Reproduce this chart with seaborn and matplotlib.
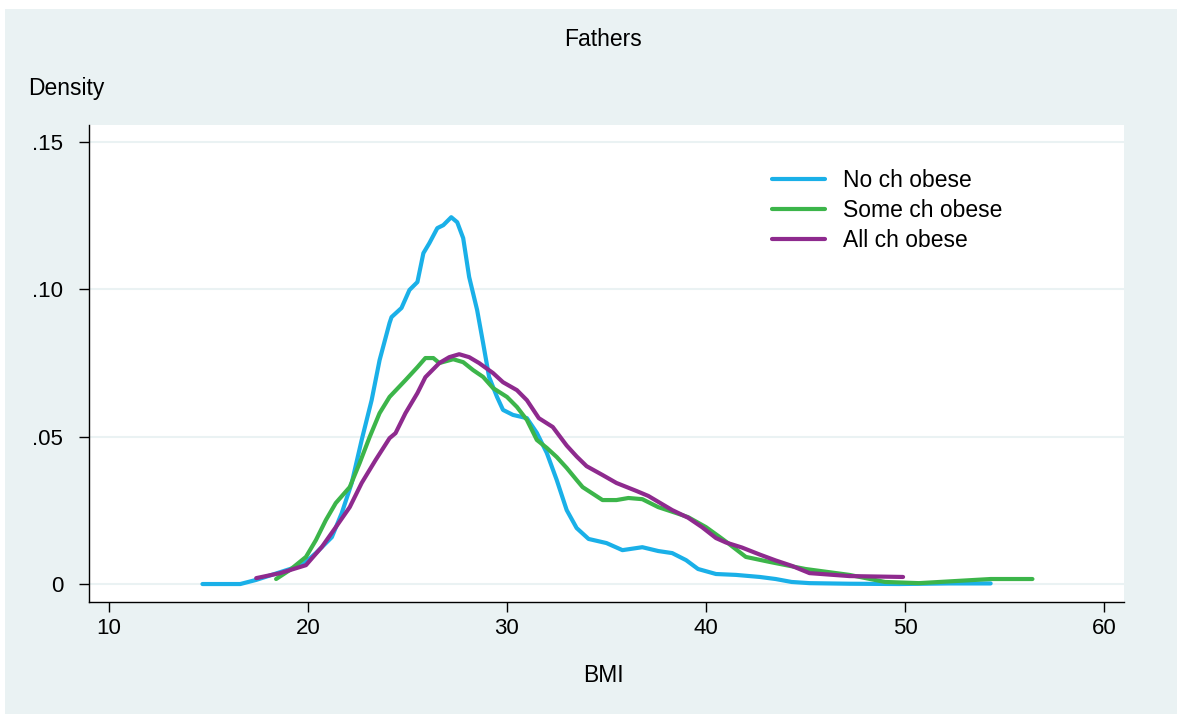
import numpy as np
import pandas as pd
import seaborn as sns
import matplotlib.pyplot as plt
from matplotlib.patches import Rectangle

# Curvas de densidad (BMI, densidad)
bmi_no = [14.7, 16.6, 17.4, 19.1, 19.7, 20.4, 21.2, 21.7, 22.2, 22.7, 23.2, 23.6, 24.1, 24.2,
          24.7, 25.1, 25.5, 25.8, 26.1, 26.5, 26.8, 27.2, 27.5, 27.8, 28.1, 28.5, 28.8, 29.1,
          29.5, 29.8, 30.3, 31.0, 31.5, 32.0, 32.5, 33.0, 33.5, 34.1, 35.0, 35.8, 36.8, 37.6,
          38.3, 39.0, 39.6, 40.5, 41.5, 42.7, 43.5, 44.3, 45.2, 47.2, 49.7, 52.2, 54.3]
dens_no = [0.0, 0.0, 0.0014, 0.0051, 0.0064, 0.0105, 0.0159, 0.0241, 0.0343, 0.0489, 0.0624, 0.0760,
           0.0886, 0.0906, 0.0937, 0.0998, 0.1025, 0.1123, 0.1157, 0.1208, 0.1218, 0.1245, 0.1228,
           0.1174, 0.1042, 0.0930, 0.0818, 0.0703, 0.0635, 0.0591, 0.0574, 0.0563, 0.0513, 0.0445,
           0.0353, 0.0251, 0.0190, 0.0153, 0.0139, 0.0115, 0.0125, 0.0112, 0.0105, 0.0081, 0.0051,
           0.0034, 0.0031, 0.0024, 0.0017, 0.0007, 0.0003, 0.0001, 0.0, 0.0002, 0.0002]

bmi_some = [18.4, 19.1, 19.9, 20.4, 20.9, 21.4, 22.1, 22.6, 23.1, 23.6, 24.1, 24.9, 25.5, 25.9,
            26.3, 26.6, 27.3, 27.8, 28.3, 28.8, 29.3, 30.0, 30.5, 31.0, 31.5, 32.0, 32.5, 33.0,
            33.5, 33.8, 34.8, 35.5, 36.1, 36.8, 37.6, 38.5, 39.1, 40.0, 40.7, 41.1, 42.0, 43.2,
            45.0, 47.2, 49.0, 50.7, 52.5, 54.3, 56.4]
dens_some = [0.0017, 0.0048, 0.0092, 0.0149, 0.0217, 0.0275, 0.0329, 0.0411, 0.0499, 0.0580, 0.0635,
             0.0692, 0.0736, 0.0767, 0.0767, 0.0750, 0.0763, 0.0753, 0.0726, 0.0703, 0.0665, 0.0635,
             0.0601, 0.0557, 0.0489, 0.0462, 0.0431, 0.0394, 0.0353, 0.0329, 0.0285, 0.0285, 0.0292,
             0.0288, 0.0261, 0.0241, 0.0227, 0.0193, 0.0159, 0.0139, 0.0092, 0.0075, 0.0051, 0.0031,
             0.0007, 0.0003, 0.0010, 0.0017, 0.0017]

bmi_all = [17.4, 18.6, 19.9, 20.7, 21.4, 22.1, 22.7, 23.4, 24.1, 24.4, 24.9, 25.5, 25.9, 26.6,
           27.1, 27.6, 28.1, 28.6, 29.3, 29.8, 30.5, 31.0, 31.6, 32.3, 33.0, 33.5, 34.0, 34.8,
           35.5, 36.5, 37.1, 38.3, 39.1, 39.8, 40.5, 41.0, 41.8, 42.7, 43.5, 44.3, 45.2, 47.2, 49.9]
dens_all = [0.0020, 0.0037, 0.0064, 0.0126, 0.0193, 0.0261, 0.0343, 0.0421, 0.0495, 0.0512, 0.0580,
            0.0648, 0.0702, 0.0750, 0.0770, 0.0780, 0.0770, 0.0750, 0.0716, 0.0685, 0.0658, 0.0624,
            0.0563, 0.0533, 0.0470, 0.0433, 0.0400, 0.0370, 0.0343, 0.0316, 0.0299, 0.0251, 0.0225,
            0.0193, 0.0156, 0.0141, 0.0124, 0.0100, 0.0080, 0.0062, 0.0037, 0.0027, 0.0024]

grupos = ["No ch obese", "Some ch obese", "All ch obese"]
colores = ["#1AB0E8", "#3CB54A", "#8E2A8E"]
xticks = [10, 20, 30, 40, 50, 60]
yticks = [0, 0.05, 0.10, 0.15]
ylabels = ["0", ".05", ".10", ".15"]

df = pd.concat([
    pd.DataFrame({"BMI": bmi_no, "Density": dens_no, "grupo": grupos[0]}),
    pd.DataFrame({"BMI": bmi_some, "Density": dens_some, "grupo": grupos[1]}),
    pd.DataFrame({"BMI": bmi_all, "Density": dens_all, "grupo": grupos[2]}),
])

fondo = "#EAF2F3"
W, H = 1177, 723
sns.set_style("white")
plt.rcParams["font.family"] = ["Liberation Sans", "DejaVu Sans"]
plt.rcParams["text.color"] = "black"
plt.rcParams["xtick.color"] = "black"
plt.rcParams["ytick.color"] = "black"

fig = plt.figure(figsize=(W / 100, H / 100), dpi=100, facecolor="white")
fig.patches.append(Rectangle((5 / W, 9 / H), 1 - 5 / W, 1 - 18 / H, transform=fig.transFigure,
                             facecolor=fondo, edgecolor="none", zorder=-10))
ax = fig.add_axes([89 / W, 1 - 602 / H, (1124 - 89) / W, (602 - 125) / H])
ax.set_facecolor("white")

sns.lineplot(data=df, x="BMI", y="Density", hue="grupo", hue_order=grupos, palette=colores,
             linewidth=3.0, sort=False, estimator=None, ax=ax, legend=False)

ax.set_xlim(9.0, 61.0)
ax.set_ylim(-0.0061, 0.1558)
ax.set_xticks(xticks)
ax.set_xticklabels([str(t) for t in xticks])
ax.set_yticks(yticks)
ax.set_yticklabels(ylabels)
ax.grid(axis="y", color=fondo, linewidth=1.5)
ax.grid(axis="x", visible=False)
ax.set_axisbelow(True)
for s in ["top", "right"]:
    ax.spines[s].set_visible(False)
for s in ["left", "bottom"]:
    ax.spines[s].set_color("black")
    ax.spines[s].set_linewidth(1.0)
ax.tick_params(axis="both", direction="out", length=7.5, width=1, color="black",
               labelcolor="black", labelsize=16, bottom=True, left=True)
ax.tick_params(axis="y", pad=11)
ax.tick_params(axis="x", pad=4)
ax.set_xlabel("")
ax.set_ylabel("")

fig.text(603 / W, 1 - 40 / H, "Fathers", ha="center", va="center", fontsize=16.5, color="black")
fig.text(28 / W, 1 - 89 / H, "Density", ha="left", va="center", fontsize=16.5, color="black")
fig.text(603 / W, 1 - 676 / H, "BMI", ha="center", va="center", fontsize=16.5, color="black")

handles = [plt.Line2D([], [], color=c, linewidth=3.0) for c in colores]
leg = ax.legend(handles, grupos, loc="upper left", bbox_to_anchor=(772 / W, 1 - 169 / H),
                bbox_transform=fig.transFigure, frameon=False, fontsize=16.5, borderpad=0,
                borderaxespad=0, handlelength=2.3, handletextpad=0.8, labelspacing=0.3)
for t in leg.get_texts():
    t.set_color("black")

fig.savefig("out.png", dpi=100, facecolor="white")
